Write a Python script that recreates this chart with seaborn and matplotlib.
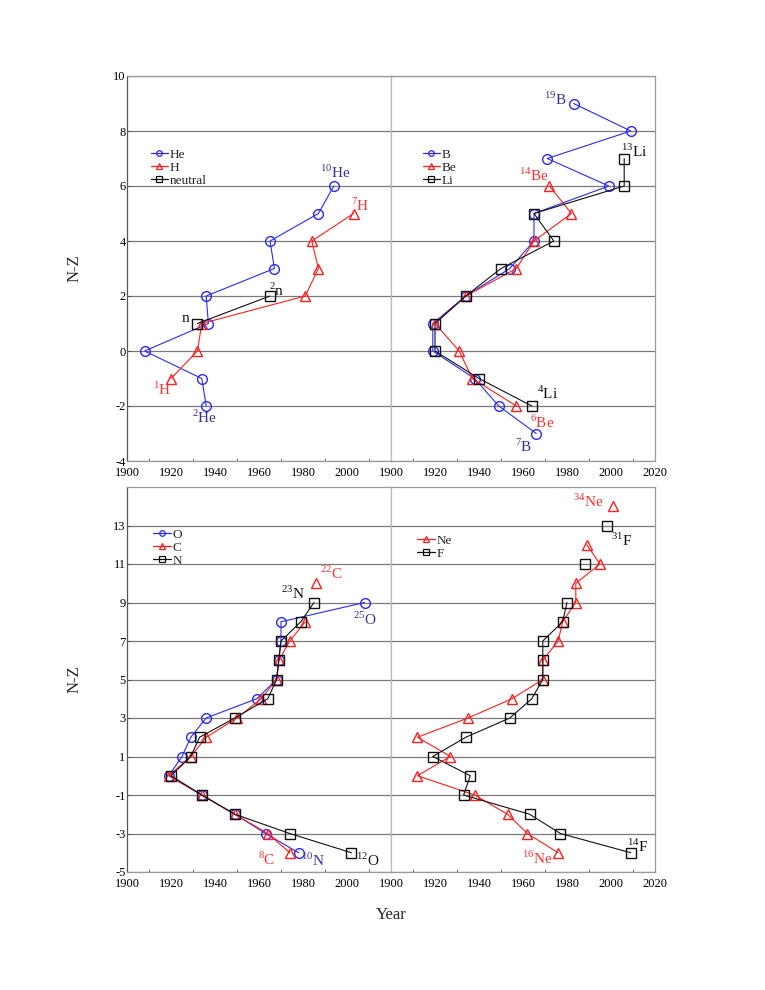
import numpy as np
import pandas as pd
import matplotlib
matplotlib.use("Agg")
import matplotlib.pyplot as plt
from matplotlib.lines import Line2D
from matplotlib.ticker import MultipleLocator
import seaborn as sns

nan = np.nan

# --- top left: He, H, neutral
he_year = [1994, 1987, 1965, 1967, 1936, 1937, 1908, 1934, 1936]
he_nz = [6, 5, 4, 3, 2, 1, 0, -1, -2]
h_year = [2003, 1984, 1987, 1981, 1934, 1932, 1920]
h_nz = [5, 4, 3, 2, 1, 0, -1]
n_year = [1965, 1932]
n_nz = [2, 1]

# --- top right: B, Be, Li
b_year = [1983, 2009, 1971, 1999, 1965, 1965, 1954, 1934, 1919, 1919, 1938, 1949, 1966]
b_nz = [9, 8, 7, 6, 5, 4, 3, 2, 1, 0, -1, -2, -3]
be_year = [1972, 1982, 1965, 1957, 1934, 1920, 1931, 1937, 1957]
be_nz = [6, 5, 4, 3, 2, 1, 0, -1, -2]
li_year = [2006, 2006, 1965, 1974, 1950, 1934, 1920, 1920, 1940, 1964]
li_nz = [7, 6, 5, 4, 3, 2, 1, 0, -1, -2]

# --- bottom left: O, C, N
o_year = [2008, 1970, 1970, 1969, 1968, 1959, 1936, 1929, 1925, 1919, 1934, 1949, 1963, 1978]
o_nz = [9, 8, 7, 6, 5, 4, 3, 2, 1, 0, -1, -2, -3, -4]
c_year = [1986, nan, 1981, 1974, 1969, 1968, 1961, 1950, 1936, 1929, 1919, 1934, 1949, 1964, 1974]
c_nz = [10, 9, 8, 7, 6, 5, 4, 3, 2, 1, 0, -1, -2, -3, -4]
nn_year = [1985, 1979, 1970, 1969, 1968, 1964, 1949, 1933, 1929, 1920, 1934, 1949, 1974, 2002]
nn_nz = [9, 8, 7, 6, 5, 4, 3, 2, 1, 0, -1, -2, -3, -4]

# --- bottom right: Ne, F
ne_year = [2001, nan, 1989, 1995, 1984, 1984, 1978, 1976, 1969, 1969, 1955, 1935,
           1912, 1927, 1912, 1938, 1953, 1962, 1976]
ne_nz = [14, 13, 12, 11, 10, 9, 8, 7, 6, 5, 4, 3, 2, 1, 0, -1, -2, -3, -4]
f_year = [1998, nan, 1988, nan, 1980, 1978, 1969, 1969, 1969, 1964, 1954, 1934,
          1919, 1936, 1933, 1963, 1977, 2009]
f_nz = [13, 12, 11, 10, 9, 8, 7, 6, 5, 4, 3, 2, 1, 0, -1, -2, -3, -4]

BLUE = "#2a2aff"
RED = "#ff2020"
BLACK = "#111111"
LBLUE = "#33338f"
LRED = "#ff3333"

sns.set_theme(style="white")
plt.rcParams['font.family'] = ['Liberation Serif', 'DejaVu Serif']
plt.rcParams['mathtext.fontset'] = 'custom'
plt.rcParams['mathtext.rm'] = 'Liberation Serif'
plt.rcParams['axes.unicode_minus'] = False

STYLE = {"o": 7, "^": 7, "s": 6.5}


def draw(ax, years, nz, color, marker):
    df = pd.DataFrame({"year": years, "nz": nz})
    df["seg"] = df["year"].isna().cumsum()
    df = df.dropna()
    sns.lineplot(data=df, x="year", y="nz", units="seg", estimator=None, sort=False,
                 color=color, marker=marker, markersize=STYLE[marker],
                 markerfacecolor="none", markeredgecolor=color, markeredgewidth=1.0,
                 linewidth=0.8, ax=ax, legend=False)


def legend(ax, entries, anchor):
    handles = [Line2D([], [], color=c, marker=m, markersize=4, markerfacecolor="none",
                      markeredgecolor=c, markeredgewidth=0.9, lw=0.9, label=l)
               for l, c, m in entries]
    ax.legend(handles=handles, loc="upper left", bbox_to_anchor=anchor, frameon=False,
              fontsize=9.5, handlelength=1.3, handletextpad=0.15, labelspacing=0.05,
              borderaxespad=0)


def label(ax, x, y, mass, sym, color):
    ax.text(x, y, r"$^{%s}$%s" % (mass, sym), color=color, fontsize=11,
            ha="center", va="center")


def style(ax, ylim, yticks, left, xmax_label):
    ax.set_xlim(1900, 2020)
    ax.set_ylim(*ylim)
    ax.set_yticks(yticks)
    ax.xaxis.set_minor_locator(MultipleLocator(10))
    ax.set_xticks(range(1900, xmax_label + 1, 20))
    ax.set_xlabel("")
    ax.set_ylabel("")
    for y in yticks:
        ax.axhline(y, color="#7a7a7a", lw=0.9, zorder=0)
    for s in ax.spines.values():
        s.set_color("#9a9a9a")
        s.set_linewidth(0.9)
    ax.tick_params(axis="x", which="major", direction="in", length=3, pad=4,
                   labelsize=9, colors="#555555", labelcolor="black", width=0.7)
    ax.tick_params(axis="x", which="minor", direction="in", length=2,
                   colors="#555555", width=0.6, bottom=True)
    if left:
        ax.spines["left"].set_color("#555555")
        ax.tick_params(axis="y", direction="in", length=3, pad=1, labelsize=9,
                       colors="#555555", labelcolor="black", width=0.7, left=True)
        ax.set_ylabel("N-Z", fontsize=12, labelpad=22)
    else:
        ax.tick_params(axis="y", length=0, labelleft=False)
        ax.spines["left"].set_color("#bbbbbb")


fig = plt.figure(figsize=(7.65, 9.9), dpi=100)
W, H = 765, 990


def axes_at(x0, x1, y0, y1):
    return fig.add_axes([x0 / W, 1 - y1 / H, (x1 - x0) / W, (y1 - y0) / H])


ax1 = axes_at(127, 391, 76, 461)
ax2 = axes_at(391, 655, 76, 461)
ax3 = axes_at(127, 391, 487, 872)
ax4 = axes_at(391, 655, 487, 872)

# top left
draw(ax1, he_year, he_nz, BLUE, "o")
draw(ax1, h_year, h_nz, RED, "^")
draw(ax1, n_year, n_nz, BLACK, "s")
style(ax1, (-4, 10), list(range(-4, 11, 2)), True, 2000)
legend(ax1, [("He", BLUE, "o"), ("H", RED, "^"), ("neutral", BLACK, "s")], (0.07, 0.825))
label(ax1, 1994.5, 6.5, "10", "He", LBLUE)
label(ax1, 2006, 5.3, "7", "H", LRED)
label(ax1, 1968, 2.2, "2", "n", BLACK)
label(ax1, 1927, 1.2, "", "n", BLACK)
label(ax1, 1916, -1.4, "1", "H", LRED)
label(ax1, 1935.5, -2.4, "2", "He", LBLUE)

# top right
draw(ax2, b_year, b_nz, BLUE, "o")
draw(ax2, be_year, be_nz, RED, "^")
draw(ax2, li_year, li_nz, BLACK, "s")
style(ax2, (-4, 10), list(range(-4, 11, 2)), False, 2020)
legend(ax2, [("B", BLUE, "o"), ("Be", RED, "^"), ("Li", BLACK, "s")], (0.1, 0.825))
label(ax2, 1974.5, 9.15, "19", "B", LBLUE)
label(ax2, 2010.5, 7.25, "13", "Li", BLACK)
label(ax2, 1965, 6.4, "14", "Be", LRED)
label(ax2, 1971, -1.55, "4", "Li", BLACK)
label(ax2, 1968.5, -2.6, "6", "Be", LRED)
label(ax2, 1960.5, -3.45, "7", "B", LBLUE)

# bottom left
draw(ax3, o_year, o_nz, BLUE, "o")
draw(ax3, c_year, c_nz, RED, "^")
draw(ax3, nn_year, nn_nz, BLACK, "s")
style(ax3, (-5, 15), list(range(-5, 14, 2)), True, 2000)
legend(ax3, [("O", BLUE, "o"), ("C", RED, "^"), ("N", BLACK, "s")], (0.08, 0.905))
label(ax3, 1993, 10.5, "22", "C", LRED)
label(ax3, 1975.5, 9.5, "23", "N", BLACK)
label(ax3, 2008, 8.1, "25", "O", LBLUE)
label(ax3, 1963.5, -4.35, "8", "C", LRED)
label(ax3, 1984.5, -4.4, "10", "N", LBLUE)
label(ax3, 2009.5, -4.4, "12", "O", BLACK)

# bottom right
draw(ax4, ne_year, ne_nz, RED, "^")
draw(ax4, f_year, f_nz, BLACK, "s")
style(ax4, (-5, 15), list(range(-5, 14, 2)), False, 2020)
legend(ax4, [("Ne", RED, "^"), ("F", BLACK, "s")], (0.08, 0.89))
label(ax4, 1989.5, 14.25, "34", "Ne", LRED)
label(ax4, 2005, 12.25, "31", "F", BLACK)
label(ax4, 2012, -3.65, "14", "F", BLACK)
label(ax4, 1966.5, -4.3, "16", "Ne", LRED)

fig.text(391 / W, 1 - 915 / H, "Year", fontsize=12, ha="center", va="center")

fig.savefig("out.png", dpi=100)
